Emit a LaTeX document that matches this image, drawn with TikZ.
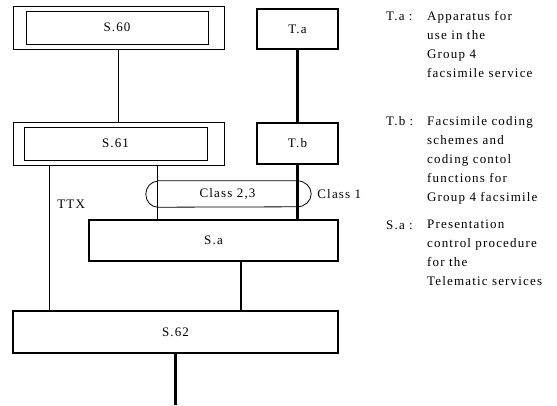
\documentclass[tikz,border=0pt]{standalone}
\usepackage{fontspec}
\setmainfont{Liberation Serif}[LetterSpace=9]
\usetikzlibrary{positioning}

\begin{document}
\begin{tikzpicture}[
    x=1pt, y=-1pt,
    font=\fontsize{13}{19}\selectfont,
    outbox/.style={draw, line width=0.8pt, minimum width=211pt, minimum height=43pt, inner sep=0pt},
    inbox/.style={draw, line width=0.8pt, minimum height=33pt, inner sep=0pt},
    tbox/.style={draw, line width=2.4pt, minimum width=81pt, inner sep=0pt},
    sbox/.style={draw, line width=1.8pt, inner sep=0pt},
    thinline/.style={line width=0.8pt},
    thickline/.style={line width=2.6pt},
    legend/.style={anchor=north west, align=left, inner sep=0pt}
]
\useasboundingbox (0,0) rectangle (557,405);

% --- Blocks ---
\node[outbox] (s60) at (118.5,27.5) {};
\node[inbox, minimum width=182pt] (s60in) at (117,27.5) {S.60};

\node[outbox] (s61) at (118.5,143.5) {};
\node[inbox, minimum width=183pt] (s61in) at (115.5,143.5) {S.61};

\node[tbox, minimum height=40pt] (ta) at (297.5,29) {T.a};
\node[tbox, minimum height=41pt] (tb) at (297.5,143.5) {T.b};

\node[sbox, minimum width=249pt, minimum height=41pt] (sa) at (213.5,240.5) {S.a};
\node[sbox, minimum width=325pt, minimum height=42pt] (s62) at (175.5,332) {S.62};

\node[minimum width=139pt, minimum height=26pt, inner sep=0pt] (cls) at (227.5,194) {Class 2,3};
\coordinate (out) at (175.5,405);

% --- Arrows ---
\draw[thinline] (s60.south) -- (s61.north);
\draw[thickline] (ta.south) -- (tb.north);
\draw[thickline] (tb.south) -- (tb.south |- sa.north);
\draw[thinline] ([xshift=37pt]s61.south west) -- ([xshift=37pt]s61.south west |- s62.north)
    node[pos=0.27, right=4pt] {TTX};
\draw[thinline] ([xshift=145pt]s61.south west) -- ([xshift=145pt]s61.south west |- sa.north);
\draw[thinline] (cls.north west) -- (cls.north east)
    arc[start angle=90, end angle=-90, x radius=14pt, y radius=13pt]
    -- (cls.south west)
    arc[start angle=270, end angle=90, x radius=12pt, y radius=13pt];
\node[right=6pt of cls.east, xshift=14pt, inner sep=0pt] (cl1) {Class 1};
\draw[thickline] ([xshift=27.5pt]sa.south) -- ([xshift=27.5pt]sa.south |- s62.north);
\draw[thickline] (s62.south) -- (out);

% --- Legend ---
\node[anchor=base west, inner sep=0pt] (kta) at (386,20) {T.a :};
\node[legend] (dta) at (427,11) {Apparatus for\\use in the\\Group 4\\facsimile service};
\node[anchor=base west, inner sep=0pt] (ktb) at (386,125) {T.b :};
\node[legend] (dtb) at (427,116) {Facsimile coding\\schemes and\\coding contol\\functions for\\Group 4 facsimile};
\node[anchor=base west, inner sep=0pt] (ksa) at (386,229) {S.a :};
\node[legend] (dsa) at (427,220) {Presentation\\control procedure\\for the\\Telematic services};

\end{tikzpicture}
\end{document}
